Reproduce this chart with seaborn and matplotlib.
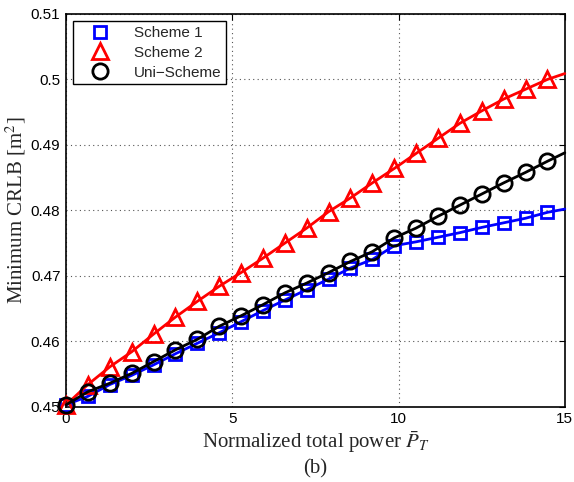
import numpy as np
import pandas as pd
import seaborn as sns
import matplotlib
matplotlib.use("Agg")
import matplotlib.pyplot as plt
from matplotlib.lines import Line2D

sns.set_style("white")
plt.rcParams['mathtext.fontset'] = 'stix'

# data (x positions of markers plus line end at 15)
power = [0.0, 0.658, 1.316, 1.974, 2.632, 3.29, 3.948, 4.606, 5.264, 5.922, 6.58,
         7.238, 7.896, 8.554, 9.212, 9.87, 10.528, 11.186, 11.844, 12.502, 13.16,
         13.818, 14.476, 15.0]
scheme1 = [0.4503, 0.4516, 0.4534, 0.4548, 0.4564, 0.4581, 0.4597, 0.4613, 0.4630, 0.4647,
           0.4663, 0.4679, 0.4695, 0.4712, 0.4725, 0.4746, 0.4752, 0.4759, 0.4766, 0.4774,
           0.4781, 0.4788, 0.4797, 0.4802]
scheme2 = [0.4503, 0.4534, 0.4561, 0.4584, 0.4611, 0.4637, 0.4661, 0.4684, 0.4705, 0.4727,
           0.4750, 0.4773, 0.4798, 0.4819, 0.4842, 0.4864, 0.4887, 0.4910, 0.4933, 0.4952,
           0.4970, 0.4985, 0.5000, 0.5009]
unischeme = [0.4503, 0.4523, 0.4536, 0.4551, 0.4569, 0.4587, 0.4603, 0.4623, 0.4639, 0.4656,
             0.4674, 0.4689, 0.4705, 0.4722, 0.4737, 0.4758, 0.4773, 0.4791, 0.4808, 0.4825,
             0.4842, 0.4858, 0.4875, 0.4888]
series_names = ["Scheme 1", "Scheme 2", "Uni\u2212Scheme"]
xticks = [0, 5, 10, 15]
yticks = [0.45, 0.46, 0.47, 0.48, 0.49, 0.50, 0.51]
ytick_labels = ["0.45", "0.46", "0.47", "0.48", "0.49", "0.5", "0.51"]

fig = plt.figure(figsize=(5.74, 4.82), dpi=100)
ax = fig.add_axes([0.115, 0.156, 0.869, 0.815])

styles = [("#0000ff", "s", 9), ("#ff0000", "^", 12), ("#000000", "o", 11)]
data_sets = [scheme1, scheme2, unischeme]
markidx = list(range(len(power) - 1))
order = [2, 0, 1]
for k in order:
    col, mk, ms = styles[k]
    df = pd.DataFrame({"x": power, "y": data_sets[k]})
    sns.lineplot(data=df, x="x", y="y", ax=ax, color=col, linewidth=2,
                 marker=mk, markersize=ms, markerfacecolor="none",
                 markeredgecolor=col, markeredgewidth=2, markevery=markidx,
                 clip_on=False, zorder=3 + k, legend=False)

ax.set_xlim(0, 15)
ax.set_ylim(0.45, 0.51)
ax.set_xticks(xticks)
ax.set_xticklabels([str(t) for t in xticks])
ax.set_yticks(yticks)
ax.set_yticklabels(ytick_labels)
ax.grid(True, linestyle=(0, (1, 3)), color="#555555", linewidth=0.8)
ax.tick_params(direction="in", length=4, width=0.8, top=True, right=True,
               labelsize=11, colors="black", pad=4)
for lab in ax.get_xticklabels() + ax.get_yticklabels():
    lab.set_family("Liberation Sans")
for sp in ax.spines.values():
    sp.set_color("black")
    sp.set_linewidth(1.2)

ax.set_xlabel(r"Normalized total power $\bar{P}_T$", family="Liberation Serif",
              fontsize=15, labelpad=2)
ax.set_ylabel(r"Minimum CRLB [m$^2$]", family="Liberation Serif", fontsize=15,
              labelpad=1)
ax.yaxis.set_label_coords(-0.076, 0.5)
fig.text(0.549, 0.028, "(b)", family="Liberation Serif", fontsize=15,
         ha="center", va="center")

handles = []
for k in range(3):
    col, mk, ms = styles[k]
    handles.append(Line2D([], [], linestyle="none", marker=mk, markersize=ms,
                          markerfacecolor="none", markeredgecolor=col,
                          markeredgewidth=2))
leg = ax.legend(handles, series_names, loc="upper left", bbox_to_anchor=(0.004, 0.993),
                prop={"family": "Liberation Sans", "size": 11}, fancybox=False,
                framealpha=1, edgecolor="black", handlelength=3.0, handletextpad=0.7,
                borderpad=0.3, labelspacing=0.38, borderaxespad=0.3)
leg.get_frame().set_linewidth(1.0)

fig.savefig("out.png", dpi=100)
